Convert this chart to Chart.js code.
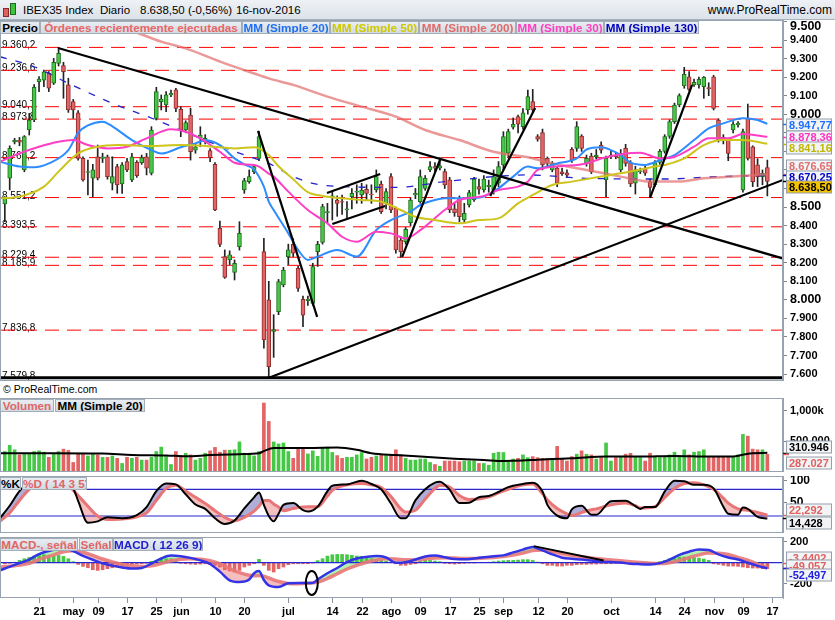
<!DOCTYPE html>
<html lang="es">
<head>
<meta charset="utf-8">
<title>IBEX35 Index Diario</title>
<script src="https://cdn.jsdelivr.net/npm/chart.js@4.4.1/dist/chart.umd.min.js"></script>
<style>
  body { margin:0; background:#fff; font-family:"Liberation Sans", Arial, sans-serif; }
  #wrap { position:relative; width:835px; height:620px; overflow:hidden; background:#fff; }
  canvas { position:absolute; left:0; }
  #hdr { position:absolute; left:0; top:0; width:835px; height:19px; background:linear-gradient(#eef1f5,#dce2e9); border-bottom:1px solid #a7b2bd; font-size:11.5px; line-height:20px; color:#000; }
  #hdr span { position:absolute; top:0; white-space:nowrap; }
  .lg { position:absolute; height:11px; line-height:11px; font-weight:bold; font-size:11.7px; background:linear-gradient(#e8edf2,#d2dae2); border:1px solid #a3aeb9; text-align:center; white-space:nowrap; overflow:hidden; z-index:5; }
  .ic { position:absolute; width:4px; border:1px solid; }
  #copy { position:absolute; left:3px; top:382px; font-size:10.5px; line-height:14px; }
</style>
</head>
<body>
<div id="wrap">
  <div id="hdr">
    <div class="ic" style="left:3px;top:8px;height:7px;background:#e06060;border-color:#8a2a2a"></div>
    <div class="ic" style="left:10px;top:3px;height:10px;background:#3fc43f;border-color:#1d6a1d"></div>
    <span style="left:23px">IBEX35 Index</span>
    <span style="left:100px">Diario</span>
    <span style="left:140px">8.638,50 (-0,56%)</span>
    <span style="left:236px">16-nov-2016</span>
    <span style="right:3px;font-size:12px">www.ProRealTime.com</span>
  </div>

  <div class="lg" style="left:0;top:21px;width:38px;color:#000">Precio</div>
  <div class="lg" style="left:40px;top:21px;width:200px;color:#e86666">Órdenes recientemente ejecutadas</div>
  <div class="lg" style="left:242px;top:21px;width:86px;color:#1f6fef">MM (Simple 20)</div>
  <div class="lg" style="left:330px;top:21px;width:87px;color:#cfc800">MM (Simple 50)</div>
  <div class="lg" style="left:419px;top:21px;width:95px;color:#e06a6a">MM (Simple 200)</div>
  <div class="lg" style="left:516px;top:21px;width:86px;color:#ff3fbf">MM (Simple 30)</div>
  <div class="lg" style="left:604px;top:21px;width:93px;color:#0000c0">MM (Simple 130)</div>

  <div id="copy">© ProRealTime.com</div>

  <div class="lg" style="left:0;top:399px;width:52px;color:#e06666">Volumen</div>
  <div class="lg" style="left:55px;top:399px;width:88px;color:#000">MM (Simple 20)</div>

  <div class="lg" style="left:0;top:477px;width:19px;color:#000">%K</div>
  <div class="lg" style="left:22px;top:477px;width:63px;color:#e06666">%D ( 14 3 5)</div>

  <div class="lg" style="left:0;top:538px;width:76px;color:#e06666">MACD-, señal</div>
  <div class="lg" style="left:79px;top:538px;width:32px;color:#e06666">Señal</div>
  <div class="lg" style="left:113px;top:538px;width:88px;color:#2020d0">MACD ( 12 26 9)</div>

  <canvas id="cMain" width="835" height="361" style="top:20px"></canvas>
  <canvas id="cVol" width="835" height="74" style="top:398px"></canvas>
  <canvas id="cSto" width="835" height="57" style="top:476px"></canvas>
  <canvas id="cMacd" width="835" height="83" style="top:537px"></canvas>
</div>
<script>
// ---- daily candles, 12-abr-2016 .. 16-nov-2016 (index 0..156)
const open = [8517,8655,8851,8860,8700,8915,8969,9176,9184,9220,
  9167,9274,9262,9158,9068,9008,8762,8686,8655,8771,
  8762,8771,8628,8718,8624,8745,8646,8741,8739,8771,
  8682,8978,9068,9050,9104,9131,9026,8915,8996,8807,
  8870,8852,8804,8730,8385,8233,8215,8148,8286,8592,
  8637,8691,8762,8260,8000,7830,7936,8080,8233,8299,
  8170,8003,7995,7981,8260,8310,8470,8555,8538,8530,
  8484,8556,8580,8565,8595,8570,8592,8624,8520,8664,
  8493,8322,8313,8416,8565,8529,8601,8700,8718,8710,
  8691,8646,8490,8547,8430,8511,8538,8610,8592,8610,
  8592,8628,8727,8790,8930,8987,8933,9023,9068,8880,
  8901,8762,8700,8710,8690,8685,8811,8816,8883,8735,
  8775,8770,8834,8646,8770,8780,8700,8816,8740,8628,
  8690,8710,8637,8620,8740,8800,8880,8960,9050,9152,
  9202,9158,9158,9148,9143,9202,8969,8876,8861,8915,
  8942,8592,8978,8825,8727,8664,8712];
const high = [8556,8830,8870,8875,8885,9005,9160,9203,9238,9230,
  9301,9360,9280,9194,9080,9020,8770,8753,8730,8834,
  8790,8780,8771,8730,8740,8762,8789,8750,8780,8789,
  8933,9145,9104,9122,9130,9140,9040,8965,9032,8840,
  8933,8890,8815,8740,8424,8269,8264,8215,8421,8655,
  8700,8730,8906,8331,8100,7920,8110,8175,8300,8330,
  8180,8020,8020,8197,8315,8515,8520,8580,8560,8565,
  8530,8600,8620,8628,8620,8620,8700,8640,8600,8680,
  8500,8340,8390,8550,8600,8700,8670,8745,8740,8766,
  8705,8660,8520,8560,8520,8590,8660,8650,8670,8645,
  8700,8745,8906,8920,8980,8995,9030,9130,9134,8890,
  8920,8770,8745,8720,8710,8700,8820,8960,8890,8780,
  8790,8810,8852,8775,8800,8795,8810,8838,8750,8720,
  8710,8720,8650,8750,8810,8890,8970,9060,9110,9253,
  9230,9190,9200,9203,9170,9210,8975,8890,8870,8960,
  8960,8920,9055,8830,8760,8700,8753];
const low = [8421,8592,8840,8830,8690,8888,8960,9122,9148,9122,
  9160,9260,9086,9010,8978,8753,8640,8565,8556,8646,
  8740,8650,8592,8574,8574,8690,8637,8660,8730,8673,
  8673,8969,9023,9014,9095,9014,8879,8900,8753,8790,
  8825,8840,8744,8480,8286,8116,8190,8107,8268,8574,
  8628,8680,8750,7739,7580,7690,7920,8070,8190,8233,
  8045,7856,7970,7970,8180,8300,8412,8430,8450,8460,
  8440,8490,8520,8520,8540,8520,8580,8465,8490,8470,
  8251,8229,8300,8400,8545,8520,8590,8690,8690,8700,
  8600,8470,8450,8421,8415,8500,8530,8570,8580,8580,
  8570,8610,8700,8770,8920,8900,8920,9000,9010,8855,
  8700,8720,8690,8610,8670,8660,8740,8800,8800,8720,
  8680,8760,8790,8556,8760,8760,8690,8720,8610,8570,
  8680,8670,8556,8610,8730,8790,8870,8950,9040,9140,
  9127,9150,9140,9086,9100,9023,8850,8840,8750,8900,
  8930,8580,8753,8610,8610,8620,8560];
const close = [8547,8816,8861,8850,8879,8969,9145,9190,9229,9140,
  9280,9328,9229,9023,9023,8762,8646,8691,8700,8655,
  8771,8664,8664,8619,8727,8700,8771,8669,8766,8709,
  8915,9122,9082,9104,9113,9032,8915,8955,8798,8825,
  8888,8870,8766,8484,8299,8121,8242,8197,8358,8642,
  8664,8718,8879,7784,7640,7840,8098,8161,8269,8251,
  8062,7918,8004,8179,8299,8502,8476,8560,8520,8526,
  8490,8574,8586,8592,8574,8566,8664,8475,8583,8484,
  8269,8260,8380,8538,8574,8664,8655,8718,8709,8722,
  8619,8484,8470,8448,8466,8578,8650,8596,8650,8617,
  8664,8718,8879,8906,8946,8946,9008,9095,9023,8866,
  8727,8735,8735,8628,8680,8672,8753,8933,8816,8762,
  8691,8780,8807,8762,8780,8770,8790,8735,8625,8700,
  8695,8682,8606,8740,8800,8880,8960,9050,9100,9215,
  9134,9172,9188,9199,9138,9032,8861,8858,8789,8947,
  8952,8906,8762,8637,8664,8682,8638.5];

// volume in thousands
const volume = [333,433,361,278,305,305,333,344,322,239,
  294,333,372,350,155,305,305,261,289,278,
  239,239,261,222,139,239,222,239,194,194,
  239,333,405,250,122,333,261,305,278,194,
  222,305,344,400,322,355,355,361,489,305,
  305,261,333,1121,822,489,456,472,333,222,
  372,400,294,344,256,389,405,317,267,222,
  239,239,278,317,211,239,261,278,267,278,
  361,278,222,194,194,211,211,155,122,94,
  178,178,178,167,178,178,178,139,139,111,
  305,322,317,167,211,222,278,233,250,233,
  222,222,194,416,211,178,250,289,344,289,
  278,211,233,472,178,233,250,289,305,250,
  233,178,305,250,233,250,278,322,250,361,
  278,322,333,361,250,250,250,250,250,250,
  278,611,583,372,361,361,287.027];
const volMA = [[-1,306],[10,306],[20,300],[26,278],[33,270],[37,255],[42,275],[48,290],[52,306],[53,340],
  [55,389],[62,392],[68,398],[72,361],[75,306],[80,275],[85,250],[92,215],[98,194],[102,178],
  [106,185],[109,200],[112,211],[116,222],[123,250],[130,250],[137,261],[144,250],[149,250],[151,280],
  [153,305],[156,310.946]];

// moving averages on price, read as [index, value]
const mm20 = [[-1,8744],[3,8718],[6,8714],[9,8735],[13,8807],[15,8900],[17,8940],[20,8960],[22,8935],[26,8861],
  [30,8807],[32,8788],[36,8822],[39,8843],[41,8860],[44,8834],[47,8762],[49,8730],[51,8702],[53,8610],
  [54,8529],[55,8484],[58,8358],[60,8269],[62,8215],[64,8233],[68,8269],[72,8233],[76,8376],[79,8430],
  [83,8475],[85,8511],[88,8538],[90,8547],[95,8547],[98,8556],[101,8601],[104,8664],[107,8718],[109,8709],
  [113,8735],[117,8762],[119,8810],[122,8822],[124,8807],[126,8780],[128,8739],[131,8727],[134,8753],[137,8780],
  [141,8861],[144,8924],[147,8951],[151,8978],[154,8969],[156,8947.77]];
const mm50 = [[-1,8547],[3,8556],[8,8610],[11,8691],[15,8789],[19,8825],[23,8834],[30,8829],[36,8834],[41,8829],
  [47,8816],[51,8822],[52,8816],[54,8780],[56,8720],[59,8650],[62,8580],[65,8560],[69,8547],[73,8538],
  [77,8529],[81,8484],[84,8448],[88,8430],[93,8412],[97,8430],[101,8439],[105,8520],[108,8565],[112,8619],
  [116,8637],[122,8664],[128,8691],[133,8718],[135,8727],[139,8762],[143,8834],[147,8861],[151,8861],[156,8841.16]];
const mm30 = [[-1,8744],[3,8789],[7,8825],[11,8852],[14,8861],[17,8834],[21,8816],[25,8825],[29,8870],[34,8919],
  [37,8906],[40,8870],[44,8798],[47,8739],[51,8726],[52,8718],[54,8680],[55,8664],[58,8583],[62,8484],
  [66,8412],[69,8340],[72,8313],[76,8367],[79,8358],[82,8331],[85,8376],[90,8484],[93,8538],[98,8560],
  [101,8592],[105,8610],[107,8637],[109,8700],[114,8721],[119,8735],[122,8762],[127,8789],[130,8793],[134,8762],
  [137,8771],[141,8825],[144,8870],[148,8870],[151,8893],[156,8878.36]];
const mm200 = [[-1,9720],[10,9600],[18,9520],[26,9450],[32,9391],[37,9355],[45,9274],[52,9211],[54,9193],[59,9158],
  [66,9095],[73,9041],[80,8987],[86,8915],[93,8861],[100,8798],[107,8768],[112,8735],[119,8700],[126,8664],
  [132,8637],[138,8637],[143,8655],[149,8664],[156,8676.65]];
const mm130 = [[-1,9310],[6,9256],[13,9167],[22,9059],[31,8969],[40,8870],[50,8771],[54,8735],[59,8664],[63,8628],
  [69,8610],[80,8606],[90,8637],[100,8664],[107,8673],[119,8655],[135,8651],[146,8664],[156,8670.25]];

// support / resistance levels and trend lines [index, price]
const levels = [9360.2, 9236.6, 9040.7, 8973.8, 8766.2, 8551.2, 8393.5, 8229.4, 8185.9, 7836.8];
const floorLevel = 7579.8;
const trendLines = [
  [[10.9,9357],[159.3,8222]],
  [[53.9,7579],[159.2,8646]],
  [[51.8,8910],[63.9,7908]],
  [[65.9,8576],[76.8,8678]],
  [[67.0,8409],[77.8,8506]],
  [[81.3,8231],[89.1,8759]],
  [[99.3,8559],[108.5,9034]],
  [[132.0,8549],[140.6,9158]]
];

// stochastic %K / %D
const stochX = [-1,1,3,5,8,11,13,14,15,17,19,21,24,27,29,31,33,35,37,39,41,43,45,47,49,51,52,53,54,55,
  56,57,59,61,62,64,66,67,70,73,75,77,79,81,82,84,86,88,89,91,93,95,97,99,101,103,106,108,110,111,
  113,115,116,118,120,121,124,127,129,130,131,133,135,137,139,141,143,145,147,148,150,151,152,154,156];
const stochK = [15,43,76,94,98,98,92,82,54,5,8,17,15,22,40,76,93,91,69,46,36,15,2,10,37,62,73,45,20,8,
  25,45,49,33,30,41,76,88,91,99,92,80,48,15,15,55,80,95,97,79,49,50,62,65,74,85,92,95,75,45,
  21,15,35,43,23,23,53,54,42,36,40,40,75,99,98,90,90,82,41,25,23,39,36,18,14.428];
const stochD = [8,27,55,80,95,96,88,78,66,42,20,12,13,18,27,55,82,89,76,62,48,32,17,9,17,31,42,55,55,47,
  40,32,37,40,41,41,65,78,90,93,90,84,64,36,29,33,58,82,89,85,66,57,58,63,72,80,90,92,70,56,
  37,25,21,28,34,36,45,49,43,38,38,41,62,82,93,95,90,80,60,49,36,34,33,28,22.292];

// MACD (12 26 9)
const macdX = [-1,2,5,7,10,12,14,16,18,20,22,24,26,28,30,32,34,36,38,40,42,44,46,48,50,51,52,53,54,56,
  58,60,62,63,64,66,68,70,72,74,76,78,80,82,84,86,88,90,92,94,96,98,100,102,104,106,108,110,112,114,
  116,118,120,122,124,126,128,130,132,134,136,138,140,142,144,146,148,150,152,154,156];
const macdLine = [-73,-20,30,82,124,135,110,66,28,-6,-28,-45,-56,-50,-8,40,68,62,46,22,-12,-85,-168,-184,-160,-100,-80,-165,-216,-232,
  -196,-194,-194,-192,-160,-100,-50,6,40,55,63,50,0,5,30,60,68,52,35,32,40,53,62,70,98,125,150,117,80,48,
  38,30,20,10,6,2,-10,-14,-16,-4,30,75,105,125,120,80,50,30,0,-30,-52.497];
const signalLine = [-41,-28,-5,30,75,105,115,100,70,35,8,-15,-30,-36,-30,-8,18,34,38,32,18,-10,-55,-95,-120,-125,-122,-128,-145,-178,
  -198,-200,-196,-192,-185,-150,-105,-60,-25,5,25,38,35,28,27,35,45,48,44,40,40,44,50,58,72,92,115,120,108,90,
  72,58,46,35,26,18,10,2,-6,-8,0,20,48,75,92,90,78,50,25,-15,-49.057];
const macdHist = [-10,-5,5,22,38,50,63,79,76,70,63,70,60,38,10,-16,-35,-48,-67,-73,
  -67,-57,-48,-41,-35,-25,-16,-13,-10,-6,13,22,32,38,38,29,-6,-10,-13,-16,
  -13,-10,-16,-25,-41,-67,-79,-89,-73,-41,-25,-10,32,-25,-73,-89,-57,-41,-19,-10,
  -10,-10,-10,-3,20,38,63,76,79,79,76,70,63,60,54,38,29,22,16,6,
  -10,-25,-25,-16,-10,13,22,22,16,10,-6,-10,-13,-10,-6,-3,-3,2,3,5,
  10,16,19,22,22,25,29,29,22,6,-10,-25,-25,-32,-32,-25,-25,-19,-16,-16,
  -13,-13,-10,-10,-10,-6,-6,-10,-13,-16,-16,-13,-10,-3,10,22,38,48,54,54,
  54,48,44,35,22,-10,-16,-25,-32,-32,-35,-41,-48,-51,-51,-57,-57];
const macdHistLast = -3.4402;
const macdTrend = [[108.2,158],[122.5,22]];
const macdMark = [62.8,-194];

// axis ticks
const tickIdx = [7,14,19,25,31,36,43,49,58,67,73,79,85,91,97,102,109,115,124,133,139,145,151,157];
const tickTxt = ['21','may','09','17','25','jun','10','20','jul','14','22','ago','09','17','25','sep','12','20','oct','14','24','nov','09','17'];
const priceTicks = [9500,9400,9300,9200,9100,9000,8900,8800,8700,8600,8500,8400,8300,8200,8100,8000,7900,7800,7700,7600];
const volTicks = [500,1000];
const stochTicks = [50,100];
const macdTicks = [200,-200];

// ---------------------------------------------------------------
const XMIN = -0.78, XMAX = 159.2;
const FONT = '"Liberation Sans", Arial, sans-serif';
Chart.defaults.font.family = FONT;
Chart.defaults.color = '#000';

const UP = '#46c846', DN = '#e36464';

function fmt(v, dec) {
  const s = Math.abs(v).toFixed(dec).split('.');
  const a = s[0].replace(/\B(?=(\d{3})+(?!\d))/g, '.');
  return (v < 0 ? '-' : '') + a + (s[1] ? ',' + s[1] : '');
}
const pts = arr => arr.map(p => ({x: p[0], y: p[1]}));
const pairs = (xs, ys) => xs.map((x, i) => ({x: x, y: ys[i]}));
const idx = open.map((_, i) => i);

const xAxis = () => ({ type: 'linear', min: XMIN, max: XMAX, offset: false, display: false, grid: { offset: false } });
function yAxis(min, max, ticks, label, font) {
  return { type: 'linear', position: 'right', min: min, max: max,
    afterBuildTicks: s => { s.ticks = ticks.map(v => ({value: v})).sort((a, b) => a.value - b.value); },
    afterFit: s => { s.width = 52; s.paddingTop = 0; s.paddingBottom = 0; },
    ticks: { autoSkip: false, padding: 3, color: '#000', callback: label,
      font: font || {weight: 'bold', size: 11} },
    grid: { drawOnChartArea: false, drawTicks: true, tickLength: 4, color: '#7d8894' },
    border: { display: true, color: '#95a2af' } };
}
const baseOpts = (scales, bottom) => ({
  responsive: false, animation: false,
  layout: { padding: { left: 1, right: 0, top: 0, bottom: bottom || 0 }, autoPadding: false },
  plugins: { legend: { display: false }, tooltip: { enabled: false }, filler: { drawTime: 'beforeDatasetsDraw' } },
  scales: scales
});

const framePlugin = {
  id: 'frame',
  afterDraw(chart) {
    const a = chart.chartArea, ctx = chart.ctx;
    ctx.save();
    ctx.strokeStyle = '#97a3b0'; ctx.lineWidth = 1;
    ctx.strokeRect(a.left - 0.5, a.top + 0.5, a.right - a.left, a.bottom - a.top - 1);
    ctx.restore();
  }
};
function boxes(items) {
  return {
    id: 'boxes',
    afterDraw(chart) {
      const ctx = chart.ctx, ys = chart.scales.y, x0 = chart.chartArea.right;
      items.forEach(b => {
        const yv = Math.round(ys.getPixelForValue(b.v)) + 0.5;
        const yc = Math.round(yv + (b.dy || 0));
        ctx.save();
        ctx.strokeStyle = b.c; ctx.lineWidth = 1.5;
        ctx.beginPath(); ctx.moveTo(x0, yv); ctx.lineTo(x0 + 6, yv); ctx.stroke();
        ctx.fillStyle = b.bg || '#f2f4f6';
        ctx.fillRect(x0 + 3.5, yc - 6, 45, 12);
        ctx.strokeStyle = '#95a0ab'; ctx.lineWidth = 1;
        ctx.strokeRect(x0 + 3.5, yc - 6, 45, 12);
        ctx.fillStyle = b.c; ctx.font = 'bold 11px ' + FONT; ctx.textBaseline = 'middle';
        ctx.fillText(b.t, x0 + 6, yc + 0.5);
        ctx.restore();
      });
    }
  };
}
// top price label sits a little lower than its tick, as in the platform
const topLabel = {
  id: 'topLabel',
  afterDraw(chart) {
    const ctx = chart.ctx;
    ctx.save();
    ctx.fillStyle = '#000'; ctx.font = 'bold 12.5px ' + FONT; ctx.textBaseline = 'middle';
    ctx.fillText(fmt(priceTicks[0], 0), chart.chartArea.right + 7, 7);
    ctx.restore();
  }
};
const levelLabels = {
  id: 'levelLabels',
  beforeDatasetsDraw(chart) {
    const ctx = chart.ctx, ys = chart.scales.y;
    ctx.save();
    ctx.fillStyle = '#000'; ctx.font = '10px ' + FONT; ctx.textBaseline = 'alphabetic';
    levels.concat([floorLevel]).forEach(L => ctx.fillText(fmt(L, 1), 2, ys.getPixelForValue(L) + 1));
    ctx.restore();
  }
};
// date axis under the last panel, placed through the shared x scale
const dateAxis = {
  id: 'dateAxis',
  afterDraw(chart) {
    const ctx = chart.ctx, xs = chart.scales.x, b = chart.chartArea.bottom;
    ctx.save();
    ctx.strokeStyle = '#8893a0'; ctx.lineWidth = 1;
    ctx.fillStyle = '#000'; ctx.font = 'bold 11px ' + FONT;
    ctx.textAlign = 'center'; ctx.textBaseline = 'middle';
    tickIdx.forEach((v, k) => {
      const px = Math.round(xs.getPixelForValue(v)) + 0.5;
      ctx.beginPath(); ctx.moveTo(px, b); ctx.lineTo(px, b + 5); ctx.stroke();
      ctx.fillText(tickTxt[k], px, b + 14);
    });
    ctx.restore();
  }
};
const lineDs = (data, color, width, order, extra) => Object.assign({
  type: 'line', data: data, borderColor: color, borderWidth: width, pointRadius: 0,
  fill: false, order: order, cubicInterpolationMode: 'monotone'
}, extra || {});

// ---------------- main price panel
const mainDs = [];
levels.forEach(L => mainDs.push(lineDs([{x: XMIN, y: L}, {x: XMAX, y: L}], '#ff0000', 1, 6, {borderDash: [14, 8]})));
mainDs.push({ type: 'bar', data: idx.map(i => ({x: i, y: [low[i], high[i]]})), backgroundColor: '#222',
  barThickness: 1, grouped: false, order: 5 });
mainDs.push({ type: 'bar', data: idx.map(i => ({x: i, y: [open[i], close[i]]})),
  backgroundColor: idx.map(i => close[i] >= open[i] ? UP : DN),
  borderColor: idx.map(i => close[i] >= open[i] ? '#1f6e1f' : '#8c2d2d'),
  borderWidth: 1, borderSkipped: false, barThickness: 4, grouped: false, order: 4 });
mainDs.push(lineDs(pts(mm200), 'rgba(226,108,108,0.7)', 2.5, 3));
mainDs.push(lineDs(pts(mm130), '#2424c8', 1.3, 3, {borderDash: [7, 9]}));
mainDs.push(lineDs(pts(mm50), '#cdc41c', 2, 2));
mainDs.push(lineDs(pts(mm30), '#ff3ec6', 2, 2));
mainDs.push(lineDs(pts(mm20), '#2d8cff', 2, 2));
trendLines.forEach(t => mainDs.push(lineDs(pts(t), '#000', 2.2, 1, {cubicInterpolationMode: 'default', tension: 0})));
mainDs.push(lineDs([{x: XMIN, y: floorLevel}, {x: XMAX, y: floorLevel}], '#000', 3, 0));

new Chart(document.getElementById('cMain'), {
  type: 'bar',
  data: { datasets: mainDs },
  options: baseOpts({
    x: xAxis(),
    y: yAxis(7562.7, 9507.8, priceTicks, v => v === priceTicks[0] ? '' : fmt(v, 0),
      c => ({weight: 'bold', size: (c.tick && c.tick.value % 500 === 0) ? 12.5 : 11}))
  }),
  plugins: [levelLabels, framePlugin, topLabel, boxes([
    {v: mm20[mm20.length - 1][1], t: '8.947,77', c: '#1f6fff'},
    {v: mm30[mm30.length - 1][1], t: '8.878,36', c: '#ff33c0', dy: -1},
    {v: mm50[mm50.length - 1][1], t: '8.841,16', c: '#c0b800', dy: 3},
    {v: mm200[mm200.length - 1][1], t: '8.676,65', c: '#e07070', dy: -8.6},
    {v: mm130[mm130.length - 1][1], t: '8.670,25', c: '#0000c8', dy: 1.2},
    {v: close[close.length - 1], t: '8.638,50', c: '#000', bg: '#f5c400', dy: 5.3}
  ])]
});

// ---------------- volume
new Chart(document.getElementById('cVol'), {
  type: 'bar',
  data: { datasets: [
    lineDs(pts(volMA), '#000', 2, 0),
    { type: 'bar', data: idx.map(i => ({x: i, y: volume[i]})),
      backgroundColor: idx.map(i => close[i] >= open[i] ? UP : DN),
      barThickness: 3, grouped: false, order: 1 }
  ]},
  options: baseOpts({
    x: xAxis(),
    y: yAxis(0, 1203, volTicks, v => v >= 1000 ? fmt(v / 1000, 3) + 'k' : fmt(v * 1000, 0))
  }),
  plugins: [framePlugin, boxes([
    {v: volMA[volMA.length - 1][1], t: '310.946', c: '#000', dy: -7},
    {v: volume[volume.length - 1], t: '287.027', c: '#e06060', dy: 8.5}
  ])]
});

// ---------------- stochastic
new Chart(document.getElementById('cSto'), {
  type: 'line',
  data: { datasets: [
    lineDs(pairs(stochX, stochK), '#000', 2, 0,
      {fill: {target: 1, above: 'rgba(160,160,210,0.85)', below: 'rgba(244,180,180,0.85)'}}),
    lineDs(pairs(stochX, stochD), '#e87676', 3, 1),
    lineDs([{x: XMIN, y: 80}, {x: XMAX, y: 80}], '#2828cc', 1.2, 2),
    lineDs([{x: XMIN, y: 20}, {x: XMAX, y: 20}], '#2828cc', 1.2, 2)
  ]},
  options: baseOpts({
    x: xAxis(),
    y: yAxis(-18.2, 109.9, stochTicks, v => String(v), {weight: 'bold', size: 12})
  }),
  plugins: [framePlugin, boxes([
    {v: stochD[stochD.length - 1], t: '22,292', c: '#e06060', dy: -5.5},
    {v: stochK[stochK.length - 1], t: '14,428', c: '#000', dy: 4.8}
  ])]
});

// ---------------- MACD
const macdExtras = {
  id: 'macdExtras',
  afterDatasetsDraw(chart) {
    const ctx = chart.ctx, xs = chart.scales.x, ys = chart.scales.y;
    ctx.save();
    ctx.strokeStyle = '#000'; ctx.lineWidth = 2;
    ctx.beginPath();
    ctx.moveTo(xs.getPixelForValue(macdTrend[0][0]), ys.getPixelForValue(macdTrend[0][1]));
    ctx.lineTo(xs.getPixelForValue(macdTrend[1][0]), ys.getPixelForValue(macdTrend[1][1]));
    ctx.stroke();
    ctx.beginPath();
    ctx.ellipse(xs.getPixelForValue(macdMark[0]), ys.getPixelForValue(macdMark[1]), 6, 12, 0, 0, Math.PI * 2);
    ctx.stroke();
    ctx.restore();
  }
};
new Chart(document.getElementById('cMacd'), {
  type: 'bar',
  data: { datasets: [
    lineDs(pairs(macdX, macdLine), '#3434e6', 2.5, 0,
      {fill: {target: 1, above: 'rgba(170,240,170,0.9)', below: 'rgba(244,180,180,0.85)'}}),
    lineDs(pairs(macdX, signalLine), 'rgba(232,120,120,0.9)', 3.5, 1),
    lineDs([{x: XMIN, y: 0}, {x: XMAX, y: 0}], '#2828d0', 1.2, 2),
    { type: 'bar', data: idx.map(i => ({x: i, y: macdHist[i]})),
      backgroundColor: idx.map(i => macdHist[i] >= 0 ? UP : DN),
      barThickness: 3, grouped: false, order: 3 }
  ]},
  options: baseOpts({
    x: xAxis(),
    y: yAxis(-336, 244.8, macdTicks, v => String(v))
  }, 22),
  plugins: [framePlugin, macdExtras, dateAxis, boxes([
    {v: macdHistLast, t: '-3,4402', c: '#e06060', dy: -5.4},
    {v: signalLine[signalLine.length - 1], t: '-49,057', c: '#e06060', dy: -2.8},
    {v: macdLine[macdLine.length - 1], t: '-52,497', c: '#2020e0', dy: 6.8}
  ])]
});
</script>
</body>
</html>
